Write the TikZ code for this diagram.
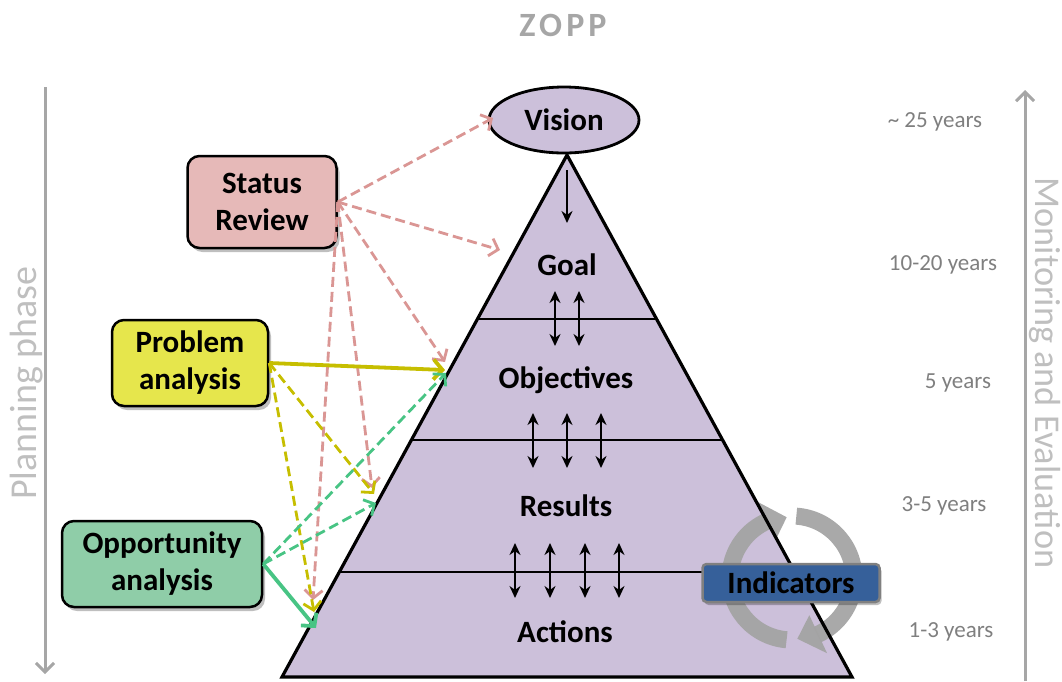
\documentclass[tikz,border=0pt]{standalone}
\usepackage{fontspec}
\setmainfont{Carlito}
\newfontfamily\titlefont[LetterSpace=12]{Carlito}
\usetikzlibrary{arrows.meta,shadows,calc,shapes.geometric}
\definecolor{lav}{HTML}{CCC0DA}
\definecolor{srfill}{HTML}{E6B9B8}
\definecolor{pafill}{HTML}{E6E64C}
\definecolor{oafill}{HTML}{8FCDA8}
\definecolor{pinkln}{HTML}{DA9694}
\definecolor{yelln}{HTML}{C6BE00}
\definecolor{grnln}{HTML}{48C484}
\definecolor{axisgray}{HTML}{A6A6A6}
\definecolor{txtgray}{HTML}{BFBFBF}
\definecolor{yrgray}{HTML}{7F7F7F}
\definecolor{indblue}{HTML}{36609A}
\definecolor{ringgray}{HTML}{A3A3A3}
\newcommand\myboxfont{\fontsize{31}{37}\selectfont\bfseries}
\begin{document}
\begin{tikzpicture}[x=1pt,y=-1pt,
  box/.style={draw=black,line width=2.5pt,rounded corners=12pt,align=center,
    font=\myboxfont,inner sep=0pt,
    drop shadow={shadow xshift=3pt,shadow yshift=-4pt,opacity=0.25,fill=black}},
  lvl/.style={font=\myboxfont},
  pdash/.style={draw=pinkln,line width=2.8pt,dash pattern=on 10pt off 5pt,-{Straight Barb[length=8pt,width=18pt,line width=2.8pt]}},
  ydash/.style={draw=yelln,line width=2.8pt,dash pattern=on 10pt off 5pt,-{Straight Barb[length=8pt,width=18pt,line width=2.8pt]}},
  gdash/.style={draw=grnln,line width=2.8pt,dash pattern=on 10pt off 5pt,-{Straight Barb[length=8pt,width=18pt,line width=2.8pt]}},
  ysolid/.style={draw=yelln,line width=3.8pt,-{Straight Barb[length=9pt,width=20pt,line width=3.8pt]}},
  gsolid/.style={draw=grnln,line width=3.8pt,-{Straight Barb[length=9pt,width=20pt,line width=3.8pt]}},
  dbl/.style={line width=2.7pt,{Stealth[length=12pt,width=11pt]}-{Stealth[length=12pt,width=11pt]}},
  sgl/.style={line width=2.7pt,-{Stealth[length=12pt,width=11pt]}},
  axisln/.style={draw=axisgray,line width=3pt,-{Straight Barb[length=9pt,width=18pt,line width=3pt]}},
  yr/.style={text=yrgray,font=\fontsize{23}{27}\selectfont},
  ring/.style={draw=ringgray,line width=17pt},
  ringhead/.style={fill=ringgray}
]
\useasboundingbox (0,0) rectangle (1062,681);

% title
\node[text=axisgray,font=\fontsize{34}{40}\selectfont\bfseries\titlefont] (title) at (563,25) {ZOPP};

% side axes
\coordinate (pl1) at (45,87);
\coordinate (pl2) at (45,674);
\draw[axisln] (pl1) -- (pl2);
\node[text=txtgray,rotate=90,font=\fontsize{38}{46}\selectfont] (plan) at (27,383) {Planning phase};
\coordinate (me1) at (1025,681);
\coordinate (me2) at (1025,90);
\draw[axisln] (me1) -- (me2);
\node[text=txtgray,rotate=-90,font=\fontsize{36.3}{42}\selectfont] (mon) at (1045,373) {Monitoring and Evaluation};

% pyramid
\coordinate (apex) at (567,155);
\coordinate (bl) at (282,677);
\coordinate (br) at (852,677);
\fill[lav] (apex) -- (br) -- (bl) -- cycle;
\coordinate (d1l) at ($(apex)!0.3142!(bl)$);
\coordinate (d1r) at ($(apex)!0.3142!(br)$);
\coordinate (d2l) at ($(apex)!0.546!(bl)$);
\coordinate (d2r) at ($(apex)!0.546!(br)$);
\coordinate (d3l) at ($(apex)!0.7989!(bl)$);
\coordinate (d3r) at ($(apex)!0.7989!(br)$);
\draw[line width=2.8pt] (d1l) -- (d1r);
\draw[line width=2.8pt] (d2l) -- (d2r);
\draw[line width=2.8pt] (d3l) -- (d3r);

% indicators ring
\begin{scope}[shift={(792,578)},yscale=-1,opacity=0.93]
  \coordinate (rc) at (0,0);
  \draw[ring] (265:62) arc[start angle=265,end angle=113,radius=62];
  \fill[ringhead] (95:61) -- (114:41) -- (114:83) -- cycle;
  \draw[ring] (86:62) arc[start angle=86,end angle=-66,radius=62];
  \fill[ringhead] (-85:61) -- (-65:41) -- (-65:83) -- cycle;
\end{scope}

\draw[line width=3.2pt,line join=miter] (apex) -- (br) -- (bl) -- cycle;

\node[draw=black,line width=2.8pt,fill=lav,ellipse,minimum width=150pt,minimum height=66pt,inner sep=0pt,font=\myboxfont] (vision) at (564,120) {Vision};

\node[lvl] (goal) at (567,265) {Goal};
\node[lvl] (obj) at (566,380) {Objectives};
\node[lvl] (res) at (566,506) {Results};
\node[lvl] (act) at (565,632) {Actions};

% inner arrows
\coordinate (v1) at (567,170); \coordinate (v2) at (567,223);
\draw[sgl] (v1) -- (v2);
\foreach \x [count=\i] in {555,579} {
  \coordinate (ga\i) at (\x,291); \coordinate (gb\i) at (\x,346);
  \draw[dbl] (ga\i) -- (gb\i);}
\foreach \x [count=\i] in {533,567,601} {
  \coordinate (oa\i) at (\x,413); \coordinate (ob\i) at (\x,468);
  \draw[dbl] (oa\i) -- (ob\i);}
\foreach \x [count=\i] in {515,550,585,619} {
  \coordinate (ra\i) at (\x,543); \coordinate (rb\i) at (\x,598);
  \draw[dbl] (ra\i) -- (rb\i);}

\node[draw=gray,line width=2.5pt,fill=indblue,rounded corners=4pt,minimum width=177pt,minimum height=38pt,inner sep=0pt,font=\myboxfont,
  drop shadow={shadow xshift=2pt,shadow yshift=-3pt,opacity=0.25,fill=black}] (ind) at (791,583) {Indicators};

% years
\node[yr] (y1) at (935,122) {\textasciitilde{} 25 years};
\node[yr] (y2) at (943,265) {10-20 years};
\node[yr] (y3) at (958,383) {5 years};
\node[yr] (y4) at (944,506) {3-5 years};
\node[yr] (y5) at (951,632) {1-3 years};

% boxes
\node[box,fill=srfill,minimum width=149pt,minimum height=92pt] (sr) at (262,202) {Status\\Review};
\node[box,fill=pafill,minimum width=156pt,minimum height=86pt] (pa) at (190,363) {Problem\\analysis};
\node[box,fill=oafill,minimum width=200pt,minimum height=86pt] (oa) at (162,564) {Opportunity\\analysis};

% targets
\coordinate (tv) at (493,118);
\coordinate (tg) at (500,250);
\coordinate (to1) at (445,362);
\coordinate (to2) at (445,370);
\coordinate (to3) at (446,373);
\coordinate (tr1) at (372,488);
\coordinate (tr2) at (374,494);
\coordinate (tr3) at (376,503);
\coordinate (ta1) at (313,600);
\coordinate (ta2) at (314,612);
\coordinate (ta3) at (316,628);

% connectors
\draw[pdash] (sr.east) -- (tv);
\draw[pdash] (sr.east) -- (tg);
\draw[pdash] (sr.east) -- (to1);
\draw[pdash] (sr.east) -- (tr1);
\draw[pdash] (sr.east) -- (ta1);
\draw[ydash] (pa.east) -- (tr2);
\draw[ydash] (pa.east) -- (ta2);
\draw[ysolid] (pa.east) -- (to2);
\draw[gdash] (oa.east) -- (to3);
\draw[gdash] (oa.east) -- (tr3);
\draw[gsolid] (oa.east) -- (ta3);
\end{tikzpicture}
\end{document}
